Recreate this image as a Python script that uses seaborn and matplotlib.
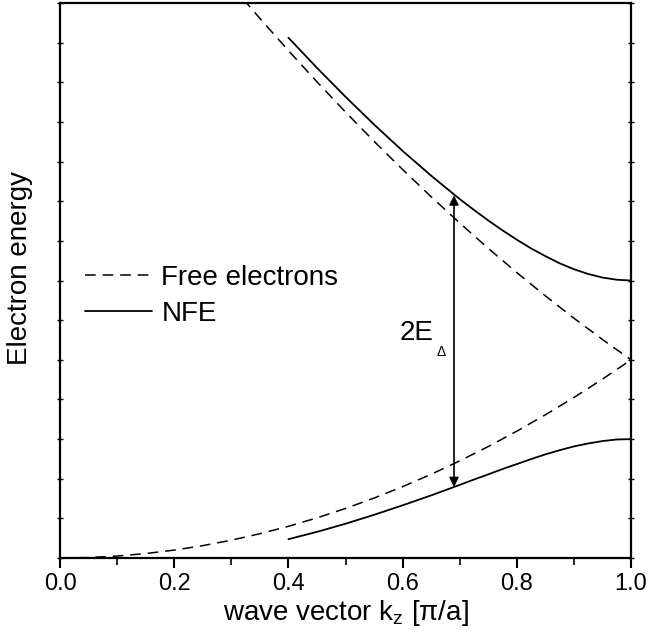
import numpy as np
import pandas as pd
import seaborn as sns
import matplotlib.pyplot as plt
from matplotlib.ticker import MultipleLocator

# free electron parabola and its reflection
k_free_low = [0.0, 0.05, 0.10, 0.15, 0.20, 0.25, 0.30, 0.35, 0.40, 0.45, 0.50,
              0.55, 0.60, 0.65, 0.70, 0.75, 0.80, 0.85, 0.90, 0.95, 1.0]
e_free_low = [0.0, 0.0025, 0.01, 0.0225, 0.04, 0.0625, 0.09, 0.1225, 0.16, 0.2025, 0.25,
              0.3025, 0.36, 0.4225, 0.49, 0.5625, 0.64, 0.7225, 0.81, 0.9025, 1.0]
k_free_up = [0.30, 0.35, 0.40, 0.45, 0.50, 0.55, 0.60, 0.65, 0.70, 0.75, 0.80,
             0.85, 0.90, 0.95, 1.0]
e_free_up = [2.89, 2.7225, 2.56, 2.4025, 2.25, 2.1025, 1.96, 1.8225, 1.69, 1.5625, 1.44,
             1.3225, 1.21, 1.1025, 1.0]

# nearly free electron bands
k_nfe = [0.40, 0.45, 0.50, 0.55, 0.60, 0.65, 0.70, 0.725, 0.75, 0.775, 0.80,
         0.825, 0.85, 0.875, 0.90, 0.925, 0.95, 0.975, 1.0]
e_nfe_up = [2.625, 2.473, 2.327, 2.187, 2.054, 1.929, 1.811, 1.756, 1.703, 1.653, 1.606,
            1.562, 1.523, 1.487, 1.457, 1.433, 1.415, 1.404, 1.40]
e_nfe_low = [0.095, 0.132, 0.173, 0.218, 0.266, 0.316, 0.369, 0.396, 0.422, 0.449, 0.474,
             0.499, 0.523, 0.544, 0.563, 0.578, 0.590, 0.598, 0.60]

# gap arrow
k_gap = 0.69
e_gap = [0.358, 1.83]

sns.set_style("ticks")
plt.rcParams['font.family'] = ['Liberation Sans', 'DejaVu Sans']
plt.rcParams['text.color'] = 'black'
plt.rcParams['axes.labelcolor'] = 'black'
plt.rcParams['xtick.color'] = 'black'
plt.rcParams['ytick.color'] = 'black'

fig = plt.figure(figsize=(6.48, 6.44), dpi=100)
ax = fig.add_axes([0.0926, 0.1335, 0.8812, 0.8618])

dash = (0, (7, 4.5))
sns.lineplot(x=k_free_low, y=e_free_low, ax=ax, color='black', lw=1.1,
             linestyle=dash, sort=False, label='Free electrons')
sns.lineplot(x=k_free_up, y=e_free_up, ax=ax, color='black', lw=1.1,
             linestyle=dash, sort=False)
sns.lineplot(x=k_nfe, y=e_nfe_up, ax=ax, color='black', lw=1.3, sort=False,
             label='NFE')
sns.lineplot(x=k_nfe, y=e_nfe_low, ax=ax, color='black', lw=1.3, sort=False)

ax.annotate('', xy=(k_gap, e_gap[1]), xytext=(k_gap, e_gap[0]),
            arrowprops=dict(arrowstyle='<|-|>', color='black', lw=1.2,
                            mutation_scale=14, shrinkA=0, shrinkB=0))
ax.text(0.625, 1.135, '2E', fontsize=20, ha='center', va='center')
ax.text(0.667, 1.04, '\u0394', fontsize=10, ha='center', va='center')

ax.set_xlim(0, 1.0)
ax.set_ylim(0, 2.8)
ax.xaxis.set_major_locator(MultipleLocator(0.2))
ax.xaxis.set_minor_locator(MultipleLocator(0.1))
ax.yaxis.set_major_locator(MultipleLocator(0.2))
ax.set_yticklabels([])
ax.tick_params(axis='x', which='major', direction='out', length=7, width=1.5,
               labelsize=17, pad=4)
ax.tick_params(axis='x', which='minor', direction='out', length=5, width=1.2)
ax.tick_params(axis='y', which='major', direction='inout', length=4, width=1,
               left=True, right=True)
for s in ax.spines.values():
    s.set_visible(True)
    s.set_linewidth(1.6)
    s.set_color('black')

ax.set_xlabel('wave vector k$\\mathregular{_z}$ [\u03c0/a]', fontsize=20, labelpad=2)
ax.set_ylabel('Electron energy', fontsize=20)
ax.yaxis.set_label_coords(-0.047, 0.5225)

ax.legend(loc='center left', bbox_to_anchor=(0.0, 0.472), frameon=False,
          fontsize=20, handlelength=2.4, handletextpad=0.35, labelspacing=0.35)

fig.savefig('out.png', dpi=100)
